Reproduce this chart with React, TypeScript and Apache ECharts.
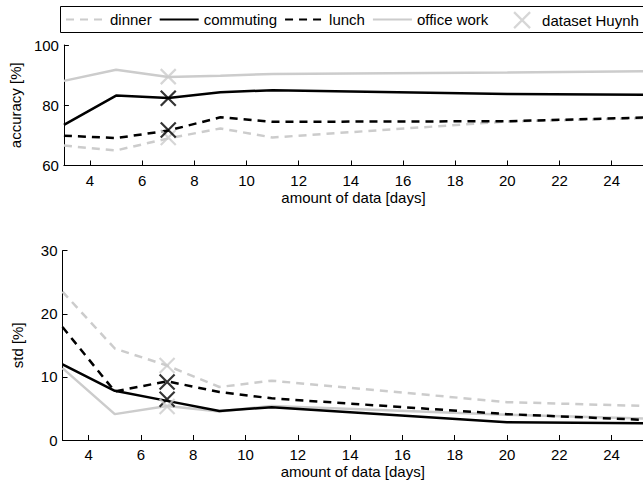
import React, { useEffect, useRef } from "react";
import * as echarts from "echarts";

// ---- data ----
const days = [3, 5, 7, 9, 11, 20, 25.2];
const seriesNames = ["dinner", "commuting", "lunch", "office work"];
const accDinner = [66.6, 65.0, 69.0, 72.3, 69.3, 74.6, 75.7];
const accCommuting = [73.5, 83.2, 82.4, 84.3, 85.0, 83.7, 83.5];
const accLunch = [69.9, 69.1, 71.6, 76.0, 74.5, 74.7, 75.9];
const accOffice = [88.1, 91.8, 89.4, 89.8, 90.4, 90.9, 91.3];
const stdDinner = [23.5, 14.5, 11.8, 8.4, 9.4, 6.0, 5.4];
const stdCommuting = [12.0, 7.8, 6.2, 4.6, 5.2, 2.8, 2.65];
const stdLunch = [17.9, 7.7, 9.3, 7.6, 6.6, 4.1, 3.2];
const stdOffice = [11.4, 4.1, 5.4, 4.5, 5.4, 4.0, 3.4];
const huynhName = "dataset Huynh";
const huynhDay = 7;
const huynhAcc = [69.3, 82.3, 71.8, 89.5]; // dinner, commuting, lunch, office work
const huynhStd = [11.8, 6.45, 9.2, 5.3];
const xTicks = [4, 6, 8, 10, 12, 14, 16, 18, 20, 22, 24];
const xMin = 3;
const xMax = 25.2;
const accRange = [60, 100, 20];
const stdRange = [0, 30, 10];

const GRAY = "#cccccc";
const BLACK = "#000000";
const FONT = "'Liberation Sans', Arial, Helvetica, sans-serif";
const colors = [GRAY, BLACK, BLACK, GRAY];
const dashes: any[] = [[8, 6], "solid", [8, 6], "solid"];
const XSYM = "path://M0,0L10,10M10,0L0,10";

export default function App() {
  const ref = useRef<HTMLDivElement>(null);
  useEffect(() => {
    document.body.style.margin = "0";
    const chart = echarts.init(ref.current!, undefined, { renderer: "svg" });
    const accData = [accDinner, accCommuting, accLunch, accOffice];
    const stdData = [stdDinner, stdCommuting, stdLunch, stdOffice];

    const xAxisBase = (gridIndex: number) => ({
      type: "value",
      gridIndex,
      min: xMin,
      max: xMax,
      name: "amount of data [days]",
      nameLocation: "middle",
      nameGap: 24,
      nameTextStyle: { fontSize: 15, color: BLACK, fontFamily: FONT },
      axisLine: { show: true, onZero: false, lineStyle: { color: BLACK, width: 1 } },
      axisTick: { show: true, inside: true, length: 5, customValues: xTicks, lineStyle: { color: BLACK } },
      axisLabel: { show: true, customValues: xTicks, fontSize: 15, color: BLACK, fontFamily: FONT, margin: 7 },
      splitLine: { show: false },
    });
    const yAxisBase = (gridIndex: number, r: number[], name: string) => ({
      type: "value",
      gridIndex,
      min: r[0],
      max: r[1],
      interval: r[2],
      name,
      nameLocation: "middle",
      nameGap: 38,
      nameTextStyle: { fontSize: 15, color: BLACK, fontFamily: FONT },
      axisLine: { show: true, onZero: false, lineStyle: { color: BLACK, width: 1 } },
      axisTick: { show: true, inside: true, length: 5, lineStyle: { color: BLACK } },
      axisLabel: { show: true, fontSize: 15, color: BLACK, fontFamily: FONT, margin: 5 },
      splitLine: { show: false },
    });

    const lineSeries: any[] = [];
    [accData, stdData].forEach((set, gi) => {
      set.forEach((vals, i) => {
        lineSeries.push({
          type: "line",
          name: seriesNames[i],
          xAxisIndex: gi,
          yAxisIndex: gi,
          data: days.map((d, k) => [d, vals[k]]),
          symbol: "none",
          lineStyle: { color: colors[i], width: 2.5, type: dashes[i] },
          itemStyle: { color: colors[i] },
          z: i === 1 || i === 2 ? 3 : 2,
        });
      });
    });
    const scatterSeries = [huynhAcc, huynhStd].map((vals, gi) => ({
      type: "scatter",
      name: huynhName,
      xAxisIndex: gi,
      yAxisIndex: gi,
      symbol: XSYM,
      symbolSize: 15,
      itemStyle: { color: "transparent", borderColor: GRAY, borderWidth: 2.2 },
      z: 5,
      data: vals.map((v, i) => ({
        value: [huynhDay, v],
        itemStyle: { color: "transparent", borderColor: colors[i], borderWidth: 2.2 },
        z: colors[i] === BLACK ? 6 : 5,
      })),
    }));

    const gridW = (xMax - xMin) * 26.2;
    chart.setOption({
      animation: false,
      backgroundColor: "#ffffff",
      textStyle: { fontFamily: FONT },
      grid: [
        { left: 62.5, top: 45, width: gridW, height: 120.5 },
        { left: 62.5, top: 250.7, width: gridW, height: 189.3 },
      ],
      xAxis: [xAxisBase(0), xAxisBase(1)],
      yAxis: [yAxisBase(0, accRange, "accuracy [%]"), yAxisBase(1, stdRange, "std [%]")],
      legend: [
        {
          data: seriesNames,
          left: 65,
          top: 12,
          padding: 0,
          itemWidth: 39,
          itemHeight: 14,
          itemGap: 7,
          selectedMode: false,
          itemStyle: { color: "transparent", borderColor: "transparent", borderWidth: 0, opacity: 0 },
          textStyle: { fontSize: 15, color: BLACK, fontFamily: FONT },
        },
        {
          data: [
            {
              name: huynhName,
              icon: XSYM,
              itemStyle: { color: "transparent", borderColor: GRAY, borderWidth: 2.2 },
            },
          ],
          left: 513,
          top: 11,
          padding: 0,
          itemWidth: 16,
          itemHeight: 16,
          selectedMode: false,
          textStyle: { fontSize: 15, color: BLACK, fontFamily: FONT, padding: [0, 0, 0, 7] },
        },
      ],
      graphic: [
        {
          type: "rect",
          shape: { x: 60.5, y: 6.5, width: 600, height: 26 },
          style: { fill: "none", stroke: BLACK, lineWidth: 1 },
          silent: true,
          z: 10,
        },
      ],
      series: [...lineSeries, ...scatterSeries],
    });
    return () => chart.dispose();
  }, []);
  return <div ref={ref} style={{ width: 643, height: 486 }} />;
}
